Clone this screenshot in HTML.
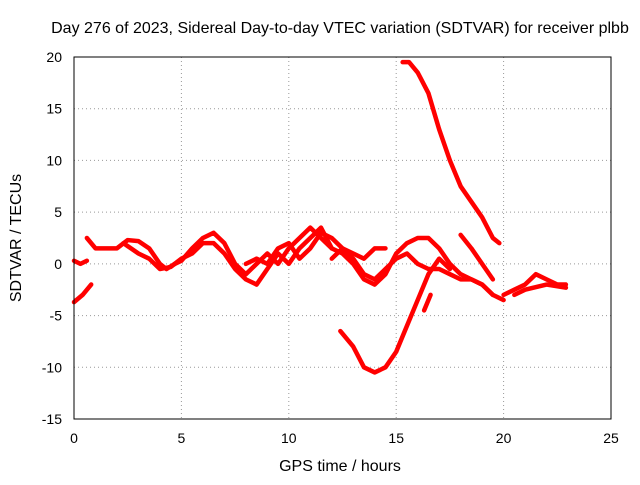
<!DOCTYPE html>
<html><head><meta charset="utf-8"><style>
body{margin:0;background:#fff;}
svg text{font-family:"Liberation Sans",sans-serif;fill:#000;}
</style></head><body>
<svg id="chart" width="640" height="480" xmlns="http://www.w3.org/2000/svg">
<text x="340" y="33" font-size="16" text-anchor="middle">Day 276 of 2023, Sidereal Day-to-day VTEC variation (SDTVAR) for receiver plbb</text>
<g id="grid"></g>
<g id="series"></g>
<rect x="74" y="57" width="537" height="362" fill="none" stroke="#000" stroke-width="1"/>
<g id="ticks"></g>
<text x="340" y="471" font-size="16" text-anchor="middle">GPS time / hours</text>
<text transform="translate(21,238) rotate(-90)" font-size="16" text-anchor="middle">SDTVAR / TECUs</text>
</svg>
<script>
const xTicks=[0,5,10,15,20,25];
const yTicks=[20,15,10,5,0,-5,-10,-15];
const track1=[[0,-3.7],[0.4,-3],[0.8,-2]];
const track2=[[0,0.3],[0.3,0],[0.6,0.3]];
const track3=[[0.6,2.5],[1,1.5],[1.5,1.5],[2,1.5],[2.5,2.3],[3,2.2],[3.5,1.5],[4,0],[4.3,-0.5],[4.7,0],[5,0.3],[5.5,1.5],[6,2.5],[6.5,3],[7,2],[7.5,0],[8,-1],[8.5,0],[9,1],[9.5,0],[10,1.5],[10.5,2.5],[11,3.5],[11.5,2.5],[12,1.5],[12.5,1],[13,0],[13.5,-1.5],[14,-2],[14.5,-1],[15,1],[15.5,2],[16,2.5],[16.5,2.5],[17,1.5],[17.5,0],[18,-1],[18.5,-1.5],[19,-2],[19.5,-3],[20,-3.5]];
const track4=[[2.3,2],[3,1],[3.5,0.5],[4,-0.5],[4.5,-0.3],[5,0.5],[5.5,1],[6,2],[6.5,2],[7,1],[7.5,-0.5],[8,-1.5],[8.5,-2],[9,-0.5],[9.5,1],[10,0],[10.5,1.5],[11,2.5],[11.5,3.5],[12,1.5]];
const track5=[[8,0],[8.5,0.5],[9,0],[9.5,1.5],[10,2],[10.5,0.5],[11,1.5],[11.5,3],[12,2.5],[12.5,1.5],[13,1],[13.5,0.5],[14,1.5],[14.5,1.5]];
const track6=[[15.3,19.5],[15.6,19.5],[16,18.5],[16.5,16.5],[17,13],[17.5,10],[18,7.5],[18.5,6],[19,4.5],[19.5,2.5],[19.8,2]];
const track7=[[12.4,-6.5],[13,-8],[13.5,-10],[14,-10.5],[14.5,-10],[15,-8.5],[15.5,-6],[16,-3.5],[16.5,-1],[17,0.5],[17.5,-0.5]];
const track8=[[16.3,-4.5],[16.6,-3]];
const track9=[[20,-3],[20.5,-2.5],[21,-2],[21.5,-1],[22,-1.5],[22.5,-2],[22.9,-2]];
const track10=[[20.5,-3],[21,-2.5],[22,-2],[22.9,-2.3]];
const track11=[[18,2.8],[18.5,1.5],[19,0],[19.5,-1.5]];
const track12=[[12,0.5],[12.5,1.5],[13,0.5],[13.5,-1],[14,-1.5],[14.5,-0.5],[15,0.5],[15.5,1],[16,0],[16.5,-0.5],[17,-0.5],[17.5,-1],[18,-1.5],[18.5,-1.5],[19,-2],[19.5,-3]];
const tracks=[track1,track2,track3,track4,track5,track6,track7,track8,track9,track10,track11,track12];
const X=v=>74+v*(537/25), Y=v=>57+(20-v)*(362/35);
const NS="http://www.w3.org/2000/svg";
const grid=document.getElementById('grid'),ticks=document.getElementById('ticks'),ser=document.getElementById('series');
function mk(t,a,p){const e=document.createElementNS(NS,t);for(const k in a)e.setAttribute(k,a[k]);p.appendChild(e);return e;}
xTicks.forEach(t=>{
 const x=X(t);
 if(t>0&&t<25){const g=mk('line',{x1:x,x2:x,y1:57,y2:419,stroke:'#999','stroke-dasharray':'1,3'},grid);
 
 }
 const l=mk('text',{x:x,y:443,'font-size':14,'text-anchor':'middle'},ticks);l.textContent=t;
 
 
});
yTicks.forEach(t=>{
 const y=Y(t);
 if(t>-15&&t<20){const g=mk('line',{x1:74,x2:611,y1:y,y2:y,stroke:'#999','stroke-dasharray':'1,3'},grid);
 
 }
 const l=mk('text',{x:62,y:y+5,'font-size':14,'text-anchor':'end'},ticks);l.textContent=t;
 
 
});
tracks.forEach(tr=>{
 const p=mk('polyline',{points:tr.map(d=>X(d[0])+','+Y(d[1])).join(' '),fill:'none',stroke:'#f00','stroke-width':4.5,'stroke-linejoin':'round','stroke-linecap':'round'},ser);
 
 
});
</script>
</body></html>
